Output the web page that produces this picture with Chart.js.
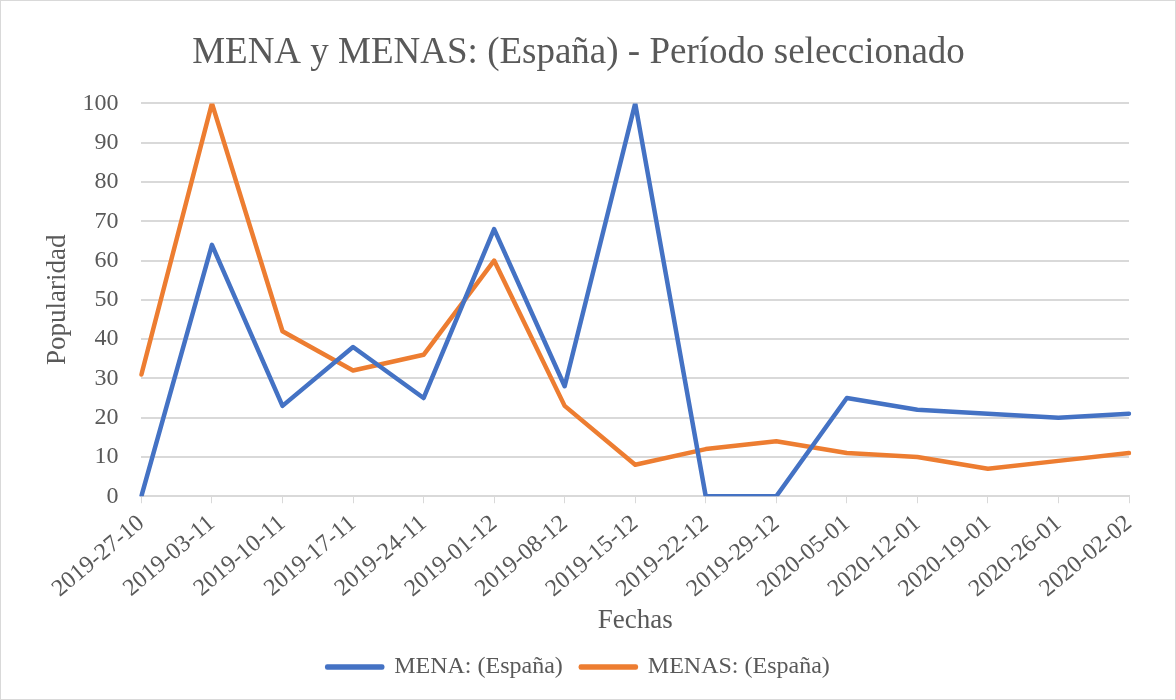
<!DOCTYPE html>
<html lang="es">
<head>
<meta charset="utf-8">
<title>MENA y MENAS: (España)</title>
<script src="https://cdn.jsdelivr.net/npm/chart.js@4/dist/chart.umd.min.js"></script>
<style>
  html, body { margin: 0; padding: 0; background: #ffffff; }
  .chart-box {
    position: relative;
    width: 1174px;
    height: 698px;
    border: 1px solid #d9d9d9;
  }
</style>
</head>
<body>
<div class="chart-box">
  <canvas id="chartMena"></canvas>
</div>
<script>
const fechas = [
  '2019-27-10', '2019-03-11', '2019-10-11', '2019-17-11', '2019-24-11',
  '2019-01-12', '2019-08-12', '2019-15-12', '2019-22-12', '2019-29-12',
  '2020-05-01', '2020-12-01', '2020-19-01', '2020-26-01', '2020-02-02'
];

const mena = [0, 64, 23, 38, 25, 68, 28, 100, 0, 0, 25, 22, 21, 20, 21];
const menas = [31, 100, 42, 32, 36, 60, 23, 8, 12, 14, 11, 10, 7, 9, 11];

const TEXT_COLOR = '#595959';
const GRID_COLOR = '#d9d9d9';
const FONT = "'Liberation Serif', 'Times New Roman', serif";

Chart.defaults.color = TEXT_COLOR;
Chart.defaults.font.family = FONT;

function makeDataset(label, data, color) {
  return {
    label,
    data,
    borderColor: color,
    backgroundColor: color,
    borderWidth: 4.5,
    pointRadius: 0,
    pointHoverRadius: 0,
    tension: 0,
    borderJoinStyle: 'round',
    borderCapStyle: 'round'
  };
}

new Chart(document.getElementById('chartMena'), {
  type: 'line',
  data: {
    labels: fechas,
    datasets: [
      makeDataset('MENA: (España)', mena, '#4472c4'),
      makeDataset('MENAS: (España)', menas, '#ed7d31')
    ]
  },
  options: {
    responsive: true,
    maintainAspectRatio: false,
    animation: false,
    layout: { padding: { top: 30, right: 46, bottom: 10, left: 27 } },
    plugins: {
      title: {
        display: true,
        text: 'MENA y MENAS: (España) - Período seleccionado',
        font: { size: 37, weight: 'normal' },
        color: TEXT_COLOR,
        padding: { top: 0, bottom: 28 }
      },
      legend: {
        position: 'bottom',
        labels: {
          boxWidth: 55,
          boxHeight: 1,
          padding: 18,
          font: { size: 24 },
          color: TEXT_COLOR
        }
      },
      tooltip: { enabled: false }
    },
    scales: {
      x: {
        offset: false,
        grid: {
          drawOnChartArea: false,
          drawTicks: true,
          tickLength: 7,
          color: GRID_COLOR
        },
        border: { color: GRID_COLOR, width: 2 },
        ticks: {
          minRotation: 40,
          maxRotation: 40,
          autoSkip: false,
          padding: 8,
          font: { size: 24, lineHeight: 1 },
          color: TEXT_COLOR
        },
        title: {
          display: true,
          text: 'Fechas',
          font: { size: 27 },
          color: TEXT_COLOR,
          padding: { top: -5, bottom: 0 }
        }
      },
      y: {
        min: 0,
        max: 100,
        grid: {
          color: GRID_COLOR,
          lineWidth: 2,
          drawTicks: false
        },
        border: { display: false },
        ticks: {
          stepSize: 10,
          padding: 23,
          font: { size: 24 },
          color: TEXT_COLOR
        },
        title: {
          display: true,
          text: 'Popularidad',
          font: { size: 27 },
          color: TEXT_COLOR,
          padding: { top: 14, bottom: -15 }
        }
      }
    }
  }
});
</script>
</body>
</html>
